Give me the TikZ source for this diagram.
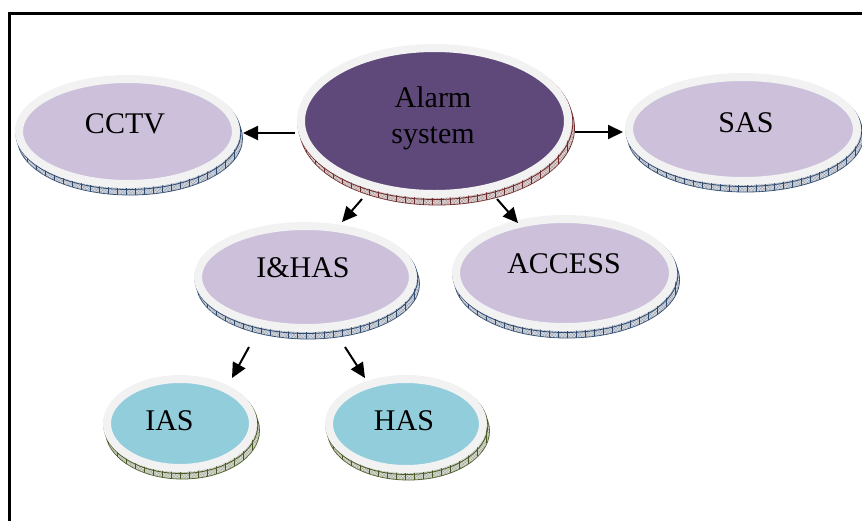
\documentclass[tikz,border=0pt]{standalone}
\usepackage{fontspec}
\setmainfont{Liberation Serif}
\usetikzlibrary{shapes.geometric,arrows.meta,patterns.meta,backgrounds}

\definecolor{ringgrey}{HTML}{F2F2F2}
\definecolor{lavender}{HTML}{CCC0DA}
\definecolor{plum}{HTML}{5F497A}
\definecolor{aqua}{HTML}{92CDDC}
\definecolor{coinblue}{HTML}{2F4A70}
\definecolor{coinred}{HTML}{6E2A2A}
\definecolor{coinolive}{HTML}{4A5A26}

\tikzset{
  disc/.style={ellipse, draw=ringgrey, line width=8pt, inner sep=0pt,
    minimum width=#1},
  lav/.style={fill=lavender},
  purp/.style={fill=plum},
  teal/.style={fill=aqua},
  coin/.style={fill=#1!15!gray!25, draw=#1, line width=0.8pt,
    postaction={pattern={Hatch[angle=45,distance=2.2pt,line width=0.25pt]},
                pattern color=#1!55},
    postaction={pattern={Lines[angle=90,distance=9pt,line width=0.6pt]},
                pattern color=#1}},
  rim/.style={draw=#1, line width=0.8pt},
  caption/.style={font=\fontsize{30}{36}\selectfont, inner sep=0pt,
    align=center},
  link/.style={-{Triangle[length=15pt,width=14pt]}, line width=2pt},
  frame/.style={line width=2.6pt}
}

\begin{document}
\begin{tikzpicture}[x=1pt, y=-1pt]
  \useasboundingbox (0,0) rectangle (862,520);

  % page frame (top and left rules)
  \draw[frame] (863,13.5) -- (9.5,13.5) -- (9.5,521);

  % discs
  \node[disc=217pt, minimum height=105pt, lav]  (cctv)   at (127.5,131.5) {};
  \node[disc=267pt, minimum height=146pt, purp] (alarm)  at (434.5,121)   {};
  \node[disc=228pt, minimum height=104pt, lav]  (sas)    at (743,129)     {};
  \node[disc=215pt, minimum height=102pt, lav]  (ihas)   at (305.5,277)   {};
  \node[disc=217pt, minimum height=108pt, lav]  (access) at (564.5,273)   {};
  \node[disc=146pt, minimum height=89pt,  teal] (ias)    at (180,423.5)   {};
  \node[disc=154pt, minimum height=90pt,  teal] (has)    at (406,424)     {};

  % raised edges under each disc
  \begin{scope}[on background layer]
    \foreach \n/\rx/\ry/\c in {cctv/112.5/56.5/coinblue, alarm/137.5/77/coinred,
        sas/118/56/coinblue, ihas/111.5/55/coinblue, access/112.5/58/coinblue,
        ias/77/48.5/coinolive, has/81/49/coinolive} {
      \path[coin=\c] ([shift={(2.5,7)}]\n.center)
        ellipse [x radius=\rx pt, y radius=\ry pt];
      \path[rim=\c] ([shift={(0.8,1.5)}]\n.center)
        ellipse [x radius=\rx pt, y radius=\ry pt];
    }
  \end{scope}

  % captions
  \node[caption] (cctv-t)   at (125,124)   {CCTV};
  \node[caption] (alarm-t)  at (433,118)   {Alarm\\system};
  \node[caption] (sas-t)    at (746,122.5) {SAS};
  \node[caption] (ihas-t)   at (303,268)   {I\&HAS};
  \node[caption] (access-t) at (564,264)   {ACCESS};
  \node[caption] (ias-t)    at (169.5,420.5) {IAS};
  \node[caption] (has-t)    at (404,420.5) {HAS};

  % connector ends
  \coordinate (a-cctv-s)  at (295,133);
  \coordinate (a-cctv-e)  at (243,133);
  \coordinate (a-sas-s)   at (575,132);
  \coordinate (a-sas-e)   at (623,132);
  \coordinate (a-ihas-s)  at (362,199);
  \coordinate (a-ihas-e)  at (342,222);
  \coordinate (a-acc-s)   at (497,199);
  \coordinate (a-acc-e)   at (518,223);
  \coordinate (i-ias-s)   at (249,347);
  \coordinate (i-ias-e)   at (232,378);
  \coordinate (i-has-s)   at (345,347);
  \coordinate (i-has-e)   at (365,378);

  \draw[link] (a-cctv-s) -- (a-cctv-e);
  \draw[link] (a-sas-s)  -- (a-sas-e);
  \draw[link] (a-ihas-s) -- (a-ihas-e);
  \draw[link] (a-acc-s)  -- (a-acc-e);
  \draw[link] (i-ias-s)  -- (i-ias-e);
  \draw[link] (i-has-s)  -- (i-has-e);
\end{tikzpicture}
\end{document}
